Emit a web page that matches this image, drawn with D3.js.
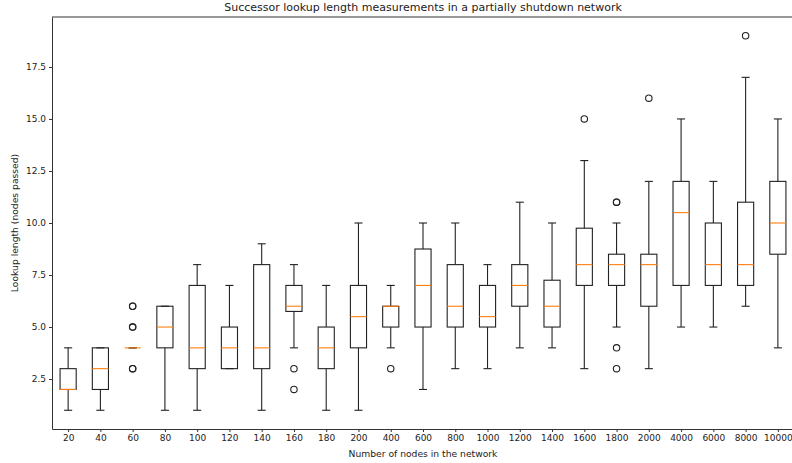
<!DOCTYPE html>
<html>
<head>
    <meta charset="UTF-8">
    <title>Successor lookup length</title>
    <script src="https://d3js.org/d3.v7.min.js"></script>
    <style>
        body { margin: 0; background: #fff; }
        text { font-family: "DejaVu Sans", sans-serif; fill: #222; }
        .box, .whisker, .cap { stroke: #222; stroke-width: 1.1px; fill: none; }
        .median { stroke: #ff7f0e; stroke-width: 1.1px; }
        .flier { stroke: #222; stroke-width: 1.1px; fill: none; }
        .domain, .tick line { stroke: #333; }
    </style>
</head>
<body>
    <svg width="792" height="463"></svg>
    <script>
        // network sizes (categories)
        var sizes = ["20", "40", "60", "80", "100", "120", "140", "160", "180", "200", "400", "600",
                     "800", "1000", "1200", "1400", "1600", "1800", "2000", "4000", "6000", "8000", "10000"];
        // box statistics
        var whiskerLow  = [1, 1, 4, 1, 1, 3, 1, 4, 1, 1, 4, 2, 3, 3, 4, 4, 3, 5, 3, 5, 5, 6, 4];
        var q1          = [2, 2, 4, 4, 3, 3, 3, 5.75, 3, 4, 5, 5, 5, 5, 6, 5, 7, 7, 6, 7, 7, 7, 8.5];
        var medians     = [2, 3, 4, 5, 4, 4, 4, 6, 4, 5.5, 6, 7, 6, 5.5, 7, 6, 8, 8, 8, 10.5, 8, 8, 10];
        var q3          = [3, 4, 4, 6, 7, 5, 8, 7, 5, 7, 6, 8.75, 8, 7, 8, 7.25, 9.75, 8.5, 8.5, 12, 10, 11, 12];
        var whiskerHigh = [4, 4, 4, 6, 8, 7, 9, 8, 7, 10, 7, 10, 10, 8, 11, 10, 13, 10, 12, 15, 12, 17, 15];
        var outliers    = [[], [], [3, 3, 5, 5, 6, 6], [], [], [], [], [3, 2], [], [], [3], [],
                           [], [], [], [], [15], [11, 11, 4, 3], [16], [], [], [19], []];
        var yTicks = [2.5, 5.0, 7.5, 10.0, 12.5, 15.0, 17.5];

        var svg = d3.select("svg");
        var mLeft = 52, mRight = 794, mTop = 17, mBottom = 429;

        var x = d3.scaleLinear().domain([0.5, sizes.length + 0.5]).range([mLeft, mRight]);
        var y = d3.scaleLinear().domain([0.1, 19.9]).range([mBottom, mTop]);
        var step = x(2) - x(1);
        var boxW = step * 0.5, capW = boxW * 0.5;

        var data = sizes.map(function (s, i) {
            return { pos: i + 1, label: s, lo: whiskerLow[i], q1: q1[i], med: medians[i],
                     q3: q3[i], hi: whiskerHigh[i], out: outliers[i] };
        });

        // frame
        svg.append("line").attr("x1", mLeft).attr("x2", mRight).attr("y1", mTop).attr("y2", mTop)
            .attr("stroke", "#333");
        svg.append("line").attr("x1", mRight).attr("x2", mRight).attr("y1", mTop).attr("y2", mBottom)
            .attr("stroke", "#333");

        var xAxis = svg.append("g").attr("transform", "translate(0," + mBottom + ")")
            .call(d3.axisBottom(x).tickValues(data.map(function (d) { return d.pos; }))
                .tickFormat(function (d) { return sizes[d - 1]; }).tickSize(3).tickPadding(3).tickSizeOuter(0));
        xAxis.selectAll("text").style("font-size", "9px");

        var yAxis = svg.append("g").attr("transform", "translate(" + mLeft + ",0)")
            .call(d3.axisLeft(y).tickValues(yTicks).tickFormat(d3.format(".1f")).tickSize(3).tickPadding(3).tickSizeOuter(0));
        yAxis.selectAll("text").style("font-size", "9px");

        var g = svg.append("g");
        var boxes = g.selectAll(".bp").data(data).enter().append("g").attr("class", "bp");

        boxes.append("line").attr("class", "whisker")
            .attr("x1", function (d) { return x(d.pos); }).attr("x2", function (d) { return x(d.pos); })
            .attr("y1", function (d) { return y(d.lo); }).attr("y2", function (d) { return y(d.q1); });
        boxes.append("line").attr("class", "whisker")
            .attr("x1", function (d) { return x(d.pos); }).attr("x2", function (d) { return x(d.pos); })
            .attr("y1", function (d) { return y(d.q3); }).attr("y2", function (d) { return y(d.hi); });
        ["lo", "hi"].forEach(function (k) {
            boxes.append("line").attr("class", "cap")
                .attr("x1", function (d) { return x(d.pos) - capW / 2; })
                .attr("x2", function (d) { return x(d.pos) + capW / 2; })
                .attr("y1", function (d) { return y(d[k]); }).attr("y2", function (d) { return y(d[k]); });
        });
        boxes.append("rect").attr("class", "box")
            .attr("x", function (d) { return x(d.pos) - boxW / 2; })
            .attr("width", boxW)
            .attr("y", function (d) { return y(d.q3); })
            .attr("height", function (d) { return y(d.q1) - y(d.q3); });
        boxes.append("line").attr("class", "median")
            .attr("x1", function (d) { return x(d.pos) - boxW / 2; })
            .attr("x2", function (d) { return x(d.pos) + boxW / 2; })
            .attr("y1", function (d) { return y(d.med); }).attr("y2", function (d) { return y(d.med); });
        boxes.selectAll(".flier").data(function (d) { return d.out.map(function (v) { return { pos: d.pos, v: v }; }); })
            .enter().append("circle").attr("class", "flier")
            .attr("cx", function (d) { return x(d.pos); })
            .attr("cy", function (d) { return y(d.v); })
            .attr("r", 3.2);

        svg.append("text").attr("x", (mLeft + mRight) / 2).attr("y", 11)
            .attr("text-anchor", "middle").style("font-size", "11px")
            .text("Successor lookup length measurements in a partially shutdown network");
        svg.append("text").attr("x", (mLeft + mRight) / 2).attr("y", 457)
            .attr("text-anchor", "middle").style("font-size", "9.2px")
            .text("Number of nodes in the network");
        svg.append("text").attr("transform", "translate(18," + ((mTop + mBottom) / 2) + ") rotate(-90)")
            .attr("text-anchor", "middle").style("font-size", "9.2px")
            .text("Lookup length (nodes passed)");
    </script>
</body>
</html>
